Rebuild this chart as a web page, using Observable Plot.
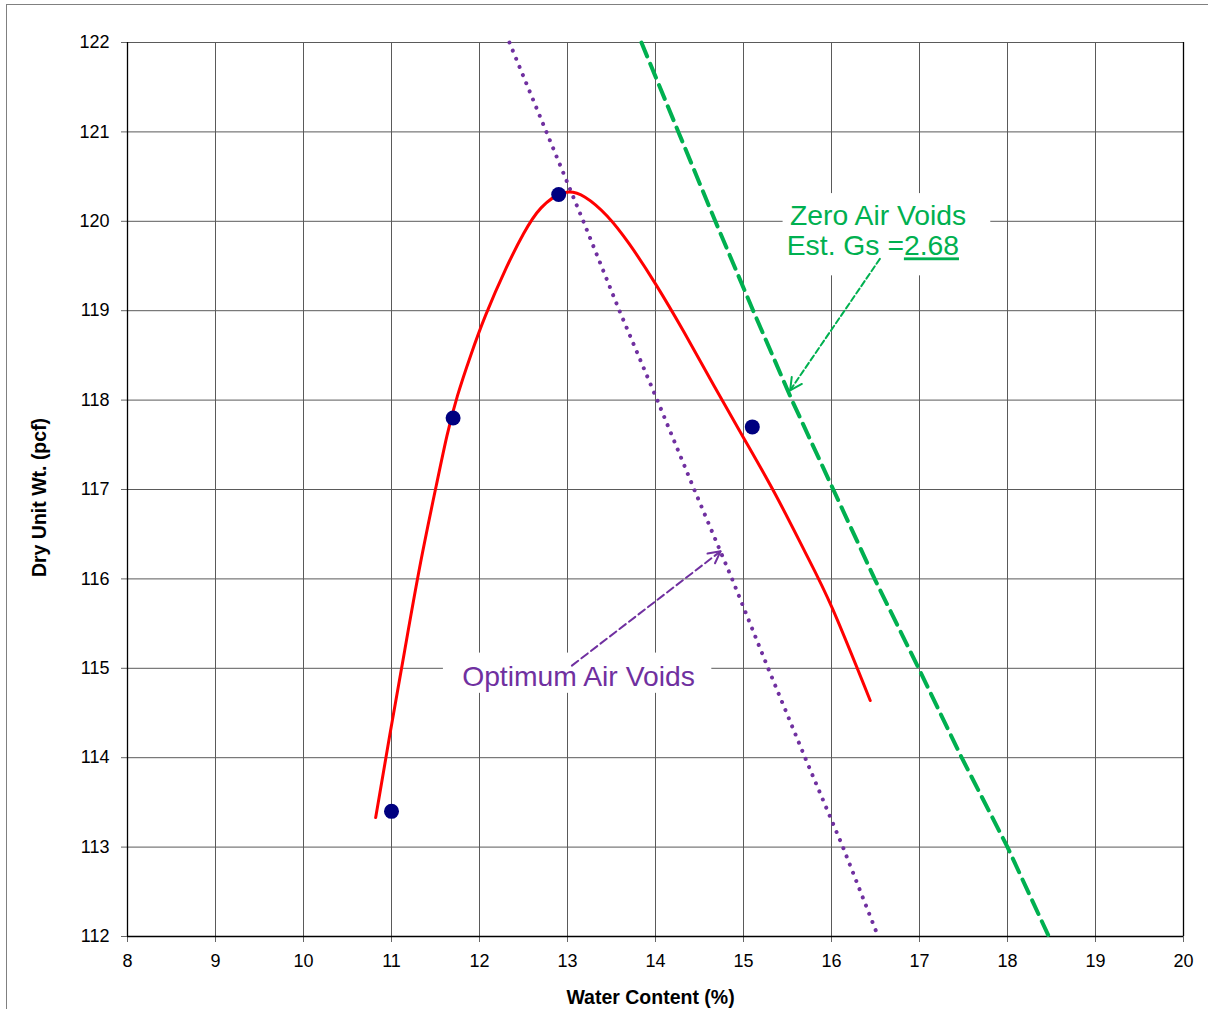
<!DOCTYPE html>
<html>
<head>
<meta charset="utf-8">
<script src="https://cdn.jsdelivr.net/npm/d3@7"></script>
<script src="https://cdn.jsdelivr.net/npm/@observablehq/plot@0.6"></script>
<style>
  html, body { margin: 0; padding: 0; background: #fff; }
  #wrap { position: relative; width: 1208px; height: 1009px; overflow: hidden; }
  #frame { position: absolute; left: 6px; top: 4px; width: 1400px; height: 1200px;
           border-left: 1.5px solid #808080; border-top: 1.5px solid #808080; pointer-events: none; }
  svg { display: block; }
</style>
</head>
<body>
<div id="wrap"><div id="chart"></div><div id="frame"></div></div>
<script>
// ---- tick labels ----
const xTicks = [8, 9, 10, 11, 12, 13, 14, 15, 16, 17, 18, 19, 20];
const yTicks = [112, 113, 114, 115, 116, 117, 118, 119, 120, 121, 122];

// ---- compaction test points ----
const testWater   = [11.0, 11.7, 12.9, 15.1];
const testDensity = [113.4, 117.8, 120.3, 117.7];

// ---- fitted compaction curve ----
const fitWater   = [10.82, 10.98, 11.15, 11.33, 11.51, 11.63, 11.75, 11.90, 12.07, 12.30, 12.50, 12.70, 12.96, 13.20, 13.45, 13.70, 14.00, 14.33, 14.66, 15.00, 15.36, 15.70, 16.01, 16.44];
const fitDensity = [113.33, 114.25, 115.20, 116.18, 117.05, 117.60, 118.05, 118.50, 118.95, 119.47, 119.86, 120.15, 120.32, 120.27, 120.06, 119.75, 119.30, 118.75, 118.17, 117.58, 116.95, 116.30, 115.67, 114.64];

// ---- zero air voids line (Gs = 2.68) ----
const zavWater   = [13.84, 14.26, 14.68, 15.11, 15.55, 16.02, 16.49, 16.99, 17.48, 18.00, 18.47];
const zavDensity = [122, 121, 120, 119, 118, 117, 116, 115, 114, 113, 112];

// ---- optimum air voids line ----
const oavWater   = [12.34, 12.76, 13.18, 13.59, 14.02, 14.44, 14.87, 15.28, 15.70, 16.13, 16.53];
const oavDensity = [122, 121, 120, 119, 118, 117, 116, 115, 114, 113, 112];

// ---- annotations ----
const zavLabelLines = ["Zero Air Voids", "Est. Gs =2.68"];
const zavLabelX = [16.53, 16.47];
const zavLabelY = [120.06, 119.72];
const oavLabel = ["Optimum Air Voids"];
const oavLabelX = [13.125];
const oavLabelY = [114.90];
// label backgrounds [x1, x2, y1, y2]
const labelBoxes = [
  [15.45, 17.81, 119.39, 120.31],
  [11.59, 14.64, 114.72, 115.17]
];
// arrows [x1, y1, x2, y2]
const arrowsGreen  = [[16.55, 119.58, 15.53, 118.11]];
const arrowsPurple = [[13.05, 115.03, 14.74, 116.31]];

const zip = (xs, ys) => xs.map((x, i) => ({x, y: ys[i]}));
const points = zip(testWater, testDensity);
const fit = zip(fitWater, fitDensity);
const zav = zip(zavWater, zavDensity);
const oav = zip(oavWater, oavDensity);
const boxes = labelBoxes.map(([x1, x2, y1, y2]) => ({x1, x2, y1, y2}));
const toArrow = a => a.map(([x1, y1, x2, y2]) => ({x1, y1, x2, y2}));
const gArrows = toArrow(arrowsGreen);
const pArrows = toArrow(arrowsPurple);
const zavLabels = zavLabelLines.map((t, i) => ({t, x: zavLabelX[i], y: zavLabelY[i]}));
const oavLabels = oavLabel.map((t, i) => ({t, x: oavLabelX[i], y: oavLabelY[i]}));

const GREEN = "#00B050", PURPLE = "#7030A0", RED = "#FF0000", NAVY = "#000080";
const FONT = "'Liberation Sans', Arial, Helvetica, sans-serif";

const chart = Plot.plot({
  width: 1208,
  height: 1009,
  marginLeft: 127,
  marginRight: 25,
  marginTop: 42,
  marginBottom: 73,
  style: {fontFamily: FONT, fontSize: "18px", background: "#fff", color: "#000"},
  x: {domain: [8, 20]},
  y: {domain: [112, 122]},
  marks: [
    Plot.gridX(xTicks, {stroke: "#5a5a5a", strokeOpacity: 1, strokeWidth: 1}),
    Plot.gridY(yTicks, {stroke: "#5a5a5a", strokeOpacity: 1, strokeWidth: 1}),
    Plot.axisX(xTicks, {tickSize: 6, tickPadding: 12, fontSize: 18, label: null, stroke: "#666", tickFormat: d => String(d)}),
    Plot.axisY(yTicks, {tickSize: 6, tickPadding: 12, fontSize: 18, label: null, stroke: "#666", tickFormat: d => String(d)}),
    Plot.ruleX([8, 20], {stroke: "#000", strokeWidth: 1.3}),
    Plot.ruleY([112], {stroke: "#000", strokeWidth: 1.3}),
    // series
    Plot.line(oav, {x: "x", y: "y", stroke: PURPLE, strokeWidth: 4, strokeLinecap: "round", strokeDasharray: "0.01,8.8"}),
    Plot.line(zav, {x: "x", y: "y", stroke: GREEN, strokeWidth: 4, strokeDasharray: "15,8"}),
    Plot.line(fit, {x: "x", y: "y", stroke: RED, strokeWidth: 3, curve: "natural"}),
    Plot.dot(points, {x: "x", y: "y", r: 7.5, fill: NAVY, stroke: "none"}),
    // label backgrounds
    Plot.rect(boxes, {x1: "x1", x2: "x2", y1: "y1", y2: "y2", fill: "#fff"}),
    // arrows: dashed shafts
    Plot.arrow(gArrows, {x1: "x1", y1: "y1", x2: "x2", y2: "y2", stroke: GREEN, strokeWidth: 2, headLength: 0, strokeDasharray: "6,3"}),
    Plot.arrow(pArrows, {x1: "x1", y1: "y1", x2: "x2", y2: "y2", stroke: PURPLE, strokeWidth: 2, headLength: 0, strokeDasharray: "8,4"}),
    // arrows: solid heads (shaft removed afterwards)
    Plot.arrow(gArrows, {x1: "x1", y1: "y1", x2: "x2", y2: "y2", stroke: GREEN, strokeWidth: 2, headLength: 10, headAngle: 55, ariaDescription: "arrowhead"}),
    Plot.arrow(pArrows, {x1: "x1", y1: "y1", x2: "x2", y2: "y2", stroke: PURPLE, strokeWidth: 2, headLength: 10, headAngle: 55, ariaDescription: "arrowhead"}),
    // labels
    Plot.text(zavLabels, {x: "x", y: "y", text: "t", fill: GREEN, fontSize: 28.3, textAnchor: "middle", lineAnchor: "middle"}),
    Plot.text(oavLabels, {x: "x", y: "y", text: "t", fill: PURPLE, fontSize: 28.3, textAnchor: "middle", lineAnchor: "middle"}),
    // axis titles
    Plot.text(["Water Content (%)"], {frameAnchor: "bottom", dy: 61, dx: -5, text: d => d, fontWeight: "bold", fontSize: 19.5, textAnchor: "middle", lineAnchor: "middle"}),
    Plot.text(["Dry Unit Wt. (pcf)"], {frameAnchor: "left", dx: -88, dy: 8, rotate: -90, text: d => d, fontWeight: "bold", fontSize: 19.5, textAnchor: "middle", lineAnchor: "middle"})
  ]
});

document.getElementById("chart").appendChild(chart);

// keep only the head of the solid arrows
const svgSel = d3.select(chart.tagName.toLowerCase() === "svg" ? chart : chart.querySelector("svg"));
let heads = svgSel.selectAll('[aria-description="arrowhead"] path');
if (heads.empty()) {
  const groups = svgSel.selectAll('g[aria-label="arrow"]').nodes();
  heads = d3.selectAll(groups.slice(2)).selectAll("path");
}
heads.each(function () {
  const d = this.getAttribute("d");
  const k = d.indexOf("M", 1);
  if (k > 0) this.setAttribute("d", d.slice(k));
});

// underline the Gs value
svgSel.selectAll("text").filter(function () {
  return this.textContent === "Est. Gs =2.68";
}).each(function () {
  const t = d3.select(this);
  t.text(null);
  t.append("tspan").text("Est. Gs =");
  t.append("tspan").attr("text-decoration", "underline").style("text-decoration", "underline").text("2.68");
});
</script>
</body>
</html>
